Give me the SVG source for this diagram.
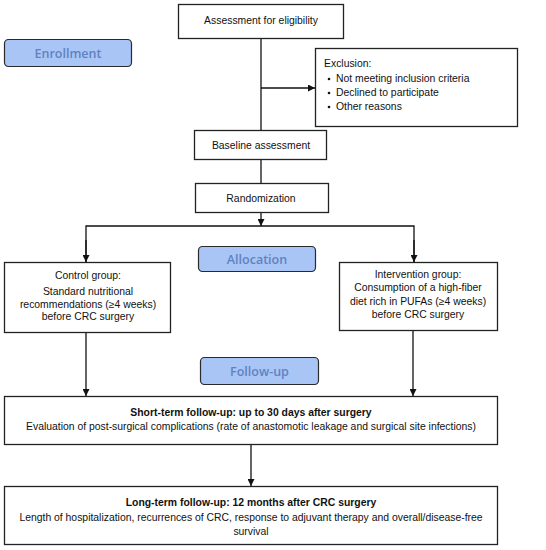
<svg xmlns="http://www.w3.org/2000/svg" width="546" height="550" viewBox="0 0 546 550">
<defs>
<style>
.box{fill:#fff;stroke:#222;stroke-width:1.3}
.phase{fill:#a9c5f6;stroke:#2a2a2a;stroke-width:1.2}
.t{font-family:"Liberation Sans",Arial,sans-serif;font-size:10.4px;fill:#111;text-anchor:middle}
.tl{font-family:"Liberation Sans",Arial,sans-serif;font-size:10.4px;fill:#111}
.b{font-weight:bold}
.ph{font-family:"Open Sans","Liberation Sans",sans-serif;font-size:12.5px;font-weight:600;fill:#5f83c0;text-anchor:middle}
.c{fill:none;stroke:#111;stroke-width:1.3}
</style>
<marker id="ah" viewBox="0 0 10 10" refX="10" refY="5" markerWidth="7" markerHeight="7" orient="auto" markerUnits="userSpaceOnUse">
<path d="M0,0 L10,5 L0,10 z" fill="#111"/>
</marker>
</defs>
<rect width="546" height="550" fill="#fff"/>
<g id="connectors">
<line class="c" x1="261" y1="38" x2="261" y2="130"/>
<line class="c" x1="261" y1="88" x2="315" y2="88" marker-end="url(#ah)"/>
<line class="c" x1="261" y1="159" x2="261" y2="183"/>
<line class="c" x1="261" y1="212" x2="261" y2="226" marker-end="url(#ah)"/>
<polyline class="c" points="86,262 86,226 414,226 414,262"/>
<line class="c" x1="86" y1="240" x2="86" y2="262" marker-end="url(#ah)"/>
<line class="c" x1="414" y1="240" x2="414" y2="262" marker-end="url(#ah)"/>
<line class="c" x1="86" y1="332" x2="86" y2="396" marker-end="url(#ah)"/>
<line class="c" x1="413" y1="330" x2="413" y2="396" marker-end="url(#ah)"/>
<line class="c" x1="251" y1="445" x2="251" y2="486" marker-end="url(#ah)"/>
</g>
<g id="enrollment">
<rect class="phase" x="4.5" y="39.5" width="127" height="27" rx="4"/>
<text class="ph" x="68" y="57.5">Enrollment</text>
</g>
<g id="allocation">
<rect class="phase" x="198.5" y="246.5" width="117" height="25" rx="4"/>
<text class="ph" x="257" y="263.5">Allocation</text>
</g>
<g id="followup">
<rect class="phase" x="200.5" y="357.5" width="118" height="27" rx="4"/>
<text class="ph" x="259.5" y="375.5">Follow-up</text>
</g>
<g id="assessment">
<rect class="box" x="178.5" y="4.5" width="165" height="34"/>
<text class="t" x="261" y="24">Assessment for eligibility</text>
</g>
<g id="exclusion">
<rect class="box" x="315.5" y="48.5" width="202" height="78"/>
<text class="tl" x="324" y="67">Exclusion:</text>
<circle cx="329" cy="79" r="1.3" fill="#111"/>
<text class="tl" x="336" y="82">Not meeting inclusion criteria</text>
<circle cx="329" cy="93" r="1.3" fill="#111"/>
<text class="tl" x="336" y="96">Declined to participate</text>
<circle cx="329" cy="107" r="1.3" fill="#111"/>
<text class="tl" x="336" y="110">Other reasons</text>
</g>
<g id="baseline">
<rect class="box" x="194.5" y="130.5" width="132" height="29"/>
<text class="t" x="261" y="148.5">Baseline assessment</text>
</g>
<g id="randomization">
<rect class="box" x="195.5" y="183.5" width="133" height="29"/>
<text class="t" x="261" y="201.5">Randomization</text>
</g>
<g id="control">
<rect class="box" x="4.5" y="262.5" width="166" height="70"/>
<text class="t" x="88" y="279">Control group:</text>
<text class="t" x="88" y="295">Standard nutritional</text>
<text class="t" x="88" y="308">recommendations (≥4 weeks)</text>
<text class="t" x="88" y="320">before CRC surgery</text>
</g>
<g id="intervention">
<rect class="box" x="339.5" y="262.5" width="158" height="68"/>
<text class="t" x="418" y="278">Intervention group:</text>
<text class="t" x="418" y="291">Consumption of a high-fiber</text>
<text class="t" x="418" y="305">diet rich in PUFAs (≥4 weeks)</text>
<text class="t" x="418" y="318">before CRC surgery</text>
</g>
<g id="shortterm">
<rect class="box" x="4.5" y="396.5" width="493" height="48"/>
<text class="t b" x="251" y="416">Short-term follow-up: up to 30 days after surgery</text>
<text class="t" x="251" y="430">Evaluation of post-surgical complications (rate of anastomotic leakage and surgical site infections)</text>
</g>
<g id="longterm">
<rect class="box" x="4.5" y="486.5" width="493" height="58"/>
<text class="t b" x="251" y="506">Long-term follow-up: 12 months after CRC surgery</text>
<text class="t" x="251" y="521">Length of hospitalization, recurrences of CRC, response to adjuvant therapy and overall/disease-free</text>
<text class="t" x="251" y="535">survival</text>
</g>
</svg>
